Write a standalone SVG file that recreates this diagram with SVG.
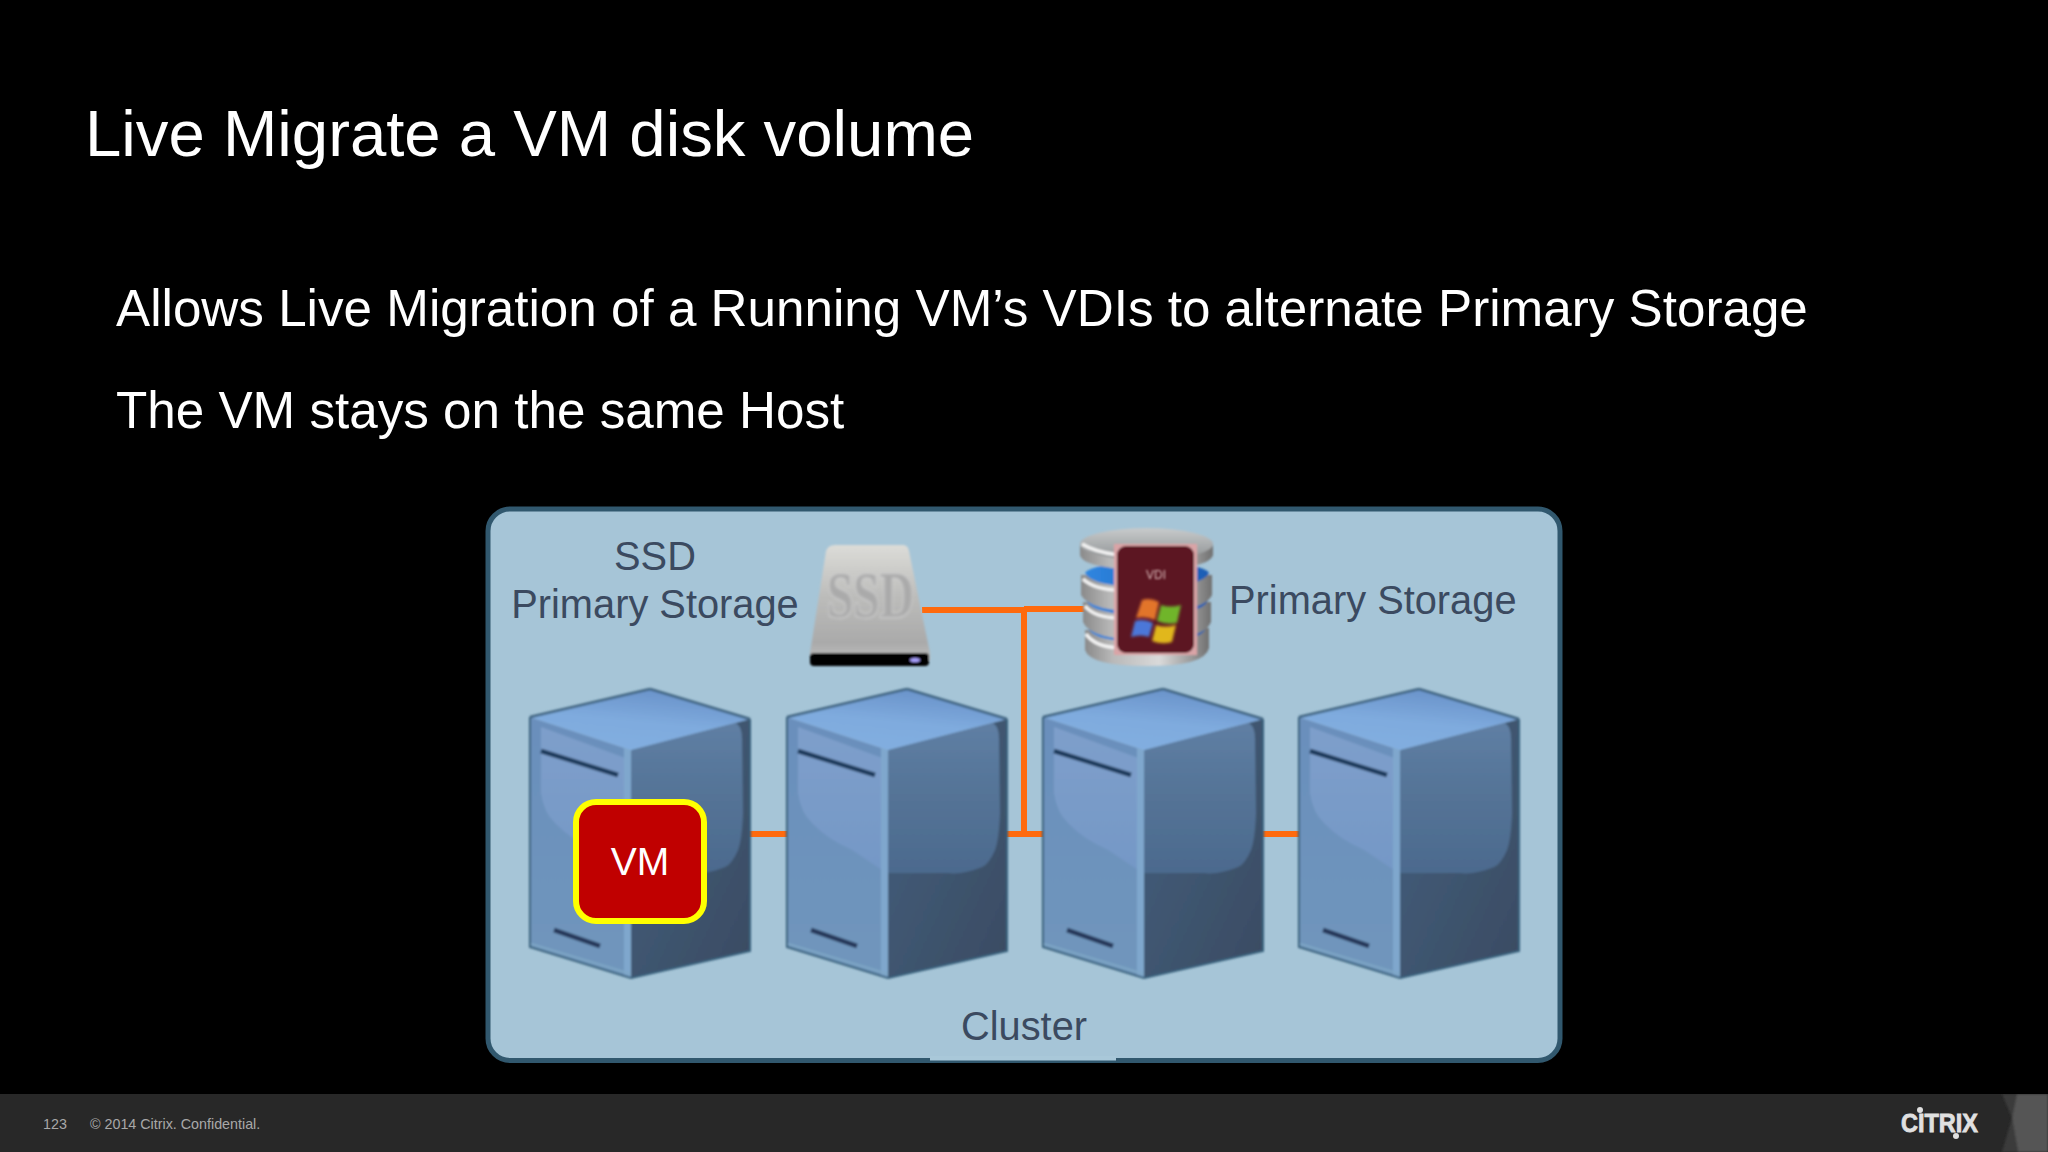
<svg xmlns="http://www.w3.org/2000/svg" width="2048" height="1152" viewBox="0 0 2048 1152">
<style>
text{font-family:"Liberation Sans",Arial,sans-serif}
.title{font-size:65.3px;fill:#fff}
.body{font-size:51.2px;fill:#fff}
.lab{font-size:39.800px;fill:#3b4a60}
.foot{font-size:14.3px;fill:#a8a8a8}
.wire{stroke:#ff6a0d;stroke-width:6;fill:none}
.disk{fill:url(#gDisk)}
.band{fill:url(#gBlue)}
.lip{fill:none;stroke:#f2f2f2;stroke-width:3.500}
</style>
<defs>
<filter id="soft" x="-5%" y="-5%" width="110%" height="110%"><feGaussianBlur stdDeviation="0.9"/></filter>
<filter id="softer" x="-10%" y="-10%" width="120%" height="120%"><feGaussianBlur stdDeviation="1.6"/></filter>
<linearGradient id="gTop" x1="0.7" y1="0" x2="0.35" y2="1"><stop offset="0" stop-color="#6891c8"/><stop offset="0.55" stop-color="#7fabde"/><stop offset="1" stop-color="#82aee0"/></linearGradient>
<linearGradient id="gLeft" x1="0" y1="0" x2="0" y2="1"><stop offset="0" stop-color="#6a8fbc"/><stop offset="1" stop-color="#7096bc"/></linearGradient>
<linearGradient id="gHiL" x1="0" y1="0" x2="0" y2="1"><stop offset="0" stop-color="#7e9fcb"/><stop offset="1" stop-color="#7598c6"/></linearGradient>
<linearGradient id="gHiR" x1="0" y1="0" x2="0" y2="1"><stop offset="0" stop-color="#5f7fa4"/><stop offset="0.5" stop-color="#547396"/><stop offset="1" stop-color="#4c6a8e"/></linearGradient>
<linearGradient id="gBase" x1="0" y1="0" x2="1" y2="1"><stop offset="0" stop-color="#44607e"/><stop offset="1" stop-color="#3a4b62"/></linearGradient>
<linearGradient id="gSsd" x1="0" y1="0" x2="0" y2="1"><stop offset="0" stop-color="#dcdcd8"/><stop offset="0.45" stop-color="#bcbcba"/><stop offset="0.85" stop-color="#aaaaaa"/><stop offset="1" stop-color="#bdbdbd"/></linearGradient>
<linearGradient id="gDisk" x1="0" y1="0" x2="1" y2="0"><stop offset="0" stop-color="#8a8a8a"/><stop offset="0.22" stop-color="#b8b8b8"/><stop offset="0.6" stop-color="#dadada"/><stop offset="0.85" stop-color="#9c9c9c"/><stop offset="1" stop-color="#707070"/></linearGradient>
<linearGradient id="gTopDisk" x1="0" y1="0" x2="0" y2="1"><stop offset="0" stop-color="#c8cbcc"/><stop offset="1" stop-color="#8f9294"/></linearGradient>
<linearGradient id="gBlue" x1="0" y1="0" x2="1" y2="0"><stop offset="0" stop-color="#2f86e0"/><stop offset="1" stop-color="#1c5cb4"/></linearGradient>
<g id="server" filter="url(#soft)">
<polygon points="0,28 101,61 101,289 0,258" fill="url(#gLeft)"/>
<path d="M11,38V104Q14,124 25,134Q40,150 65,161L95,181L98,70Z" fill="url(#gHiL)"/>
<polygon points="101,61 220,30 220,262 101,289" fill="url(#gBase)"/>
<path d="M101,61L205,34Q212,36 212,50L213,124Q212,150 208,161Q202,175 195,178Q175,186 161,184H101Z" fill="url(#gHiR)"/>
<polygon points="94,59 101,61 101,289 94,287" fill="#7fa7cd"/>
<polygon points="120,0 220,30 101,61 0,28" fill="url(#gTop)"/>
<path d="M120,0L220,30M0,28L120,0" stroke="#3f6480" stroke-width="2.500" fill="none"/>
<path d="M0,28V258L101,289L220,262V30" stroke="#38607c" stroke-width="2" fill="none"/>
<path d="M1,258L101,288" stroke="#7fa7c6" stroke-width="2" fill="none" transform="translate(0,-3)"/>
<line x1="11" y1="62" x2="88" y2="86" stroke="#1e3a5c" stroke-width="4.500"/>
<line x1="24" y1="241" x2="70" y2="257" stroke="#25375a" stroke-width="4.500"/>
</g>
</defs>
<rect width="2048" height="1152" fill="#000"/>
<text class="title" x="85" y="156">Live Migrate a VM disk volume</text>
<text class="body" x="116" y="326">Allows Live Migration of a Running VM’s VDIs to alternate Primary Storage</text>
<text class="body" x="116" y="428">The VM stays on the same Host</text>

<g id="cluster-panel">
<rect x="488" y="509" width="1072" height="551.500" rx="22" fill="#a6c5d7" stroke="#31586e" stroke-width="5"/>
<rect x="930" y="1056" width="186" height="4.500" fill="#a9c8d9"/>
<text class="lab" x="1024" y="1040" text-anchor="middle">Cluster</text>
</g>

<g id="connectors">
<path class="wire" d="M749,834H788M1005,834H1044M1261,834H1300"/>
<path class="wire" d="M922,610H1024V834M1024,609H1086"/>
</g>

<g id="server-1"><use href="#server" x="530" y="689"/></g>
<g id="server-2"><use href="#server" x="787" y="689"/></g>
<g id="server-3"><use href="#server" x="1043" y="689"/></g>
<g id="server-4"><use href="#server" x="1299" y="689"/></g>

<g id="vm">
<rect x="576" y="802" width="128" height="119" rx="20" fill="#c00000" stroke="#ffff00" stroke-width="6"/>
<text x="640" y="875" text-anchor="middle" font-size="39" fill="#fff">VM</text>
</g>

<g id="ssd-storage">
<g filter="url(#soft)">
<path d="M835,545H903Q908,545 909,551L930,653V660H810V653L826,551Q828,545 835,545Z" fill="url(#gSsd)"/>
<rect x="810" y="653" width="119" height="13" rx="4" fill="#050505"/>
<ellipse cx="915" cy="660" rx="5" ry="2" fill="#a9a0ff"/>
</g>
<text x="827" y="617" font-size="66" font-weight="bold" textLength="87" lengthAdjust="spacingAndGlyphs" style="font-family:'Liberation Serif',serif" fill="#aaaaaa" stroke="#d0d0d0" stroke-width="2.500" paint-order="stroke" filter="url(#softer)">SSD</text>
<text class="lab" x="655" y="570" text-anchor="middle">SSD</text>
<text class="lab" x="655" y="618" text-anchor="middle">Primary Storage</text>
</g>

<g id="primary-storage">
<g filter="url(#soft)">
<path class="disk" d="M1085,630V650Q1090,666 1147,666Q1205,666 1209,648V628Z"/>
<path class="band" d="M1088,628Q1093,618 1147,618Q1202,618 1206,628Q1202,642 1147,642Q1093,642 1088,628Z"/>
<path class="lip" d="M1086,634Q1095,647 1120,648"/>
<path class="disk" d="M1083,602V622Q1090,640 1147,640Q1205,640 1211,622V602Z"/>
<path class="band" d="M1086,600Q1092,590 1147,590Q1203,590 1208,600Q1203,615 1147,615Q1092,615 1086,600Z"/>
<path class="lip" d="M1085,606Q1095,618 1120,618"/>
<path class="disk" d="M1081,575V595Q1090,612 1147,612Q1205,612 1212,595V575Z"/>
<path class="band" d="M1085,573Q1092,563 1147,563Q1203,563 1209,573Q1203,587 1147,587Q1092,587 1085,573Z"/>
<path class="lip" d="M1083,579Q1095,590 1120,590"/>
<path class="disk" d="M1080,545V555Q1082,568 1147,571Q1210,568 1213,555V545Z"/>
<ellipse cx="1146.500" cy="544" rx="66.500" ry="16" fill="url(#gTopDisk)"/>
<path class="lip" d="M1082,544Q1095,552 1118,555"/>
<rect x="1115" y="545" width="81" height="109" fill="#d8a6a8" stroke="#dba3a5" stroke-width="2"/>
<rect x="1117" y="546" width="77" height="107" rx="9" fill="#5c1220"/>
</g>
<g filter="url(#softer)">
<path d="M1142,600Q1150,597 1159,602L1155,620Q1146,616 1136,618Z" fill="#e2752b"/>
<path d="M1161,605Q1170,608 1181,605L1177,623Q1166,625 1157,621Z" fill="#6fb52c"/>
<path d="M1135,621Q1144,618 1153,623L1149,637Q1141,634 1131,637Z" fill="#4c77d8"/>
<path d="M1156,625Q1165,628 1176,625L1172,642Q1162,645 1152,641Z" fill="#e1b71f"/>
</g>
<text x="1156" y="579" text-anchor="middle" font-size="12" fill="#d8b8b8" filter="url(#soft)">VDI</text>
<text class="lab" x="1229" y="614">Primary Storage</text>
</g>

<g id="footer">
<rect y="1094" width="2048" height="58" fill="#282828"/>
<g filter="url(#soft)">
<polygon points="2002,1094 2018,1094 2012,1118 2002,1152 2018,1152 2012,1118" fill="#3a3a3a"/>
<polygon points="2017,1094 2048,1094 2048,1152 2018,1152 2012,1118" fill="#545454"/>
</g>
<rect y="1090" width="2048" height="4" fill="#000"/>
<text class="foot" x="43" y="1129">123</text>
<text class="foot" x="90" y="1129">© 2014 Citrix. Confidential.</text>
<text x="1901" y="1132" font-size="25" font-weight="bold" textLength="77" lengthAdjust="spacingAndGlyphs" fill="#e0e0e0" stroke="#e0e0e0" stroke-width="0.8">CITRIX</text>
<circle cx="1920" cy="1110" r="3" fill="#e0e0e0"/>
<circle cx="1956" cy="1136" r="3" fill="#e0e0e0"/>
</g>
</svg>
